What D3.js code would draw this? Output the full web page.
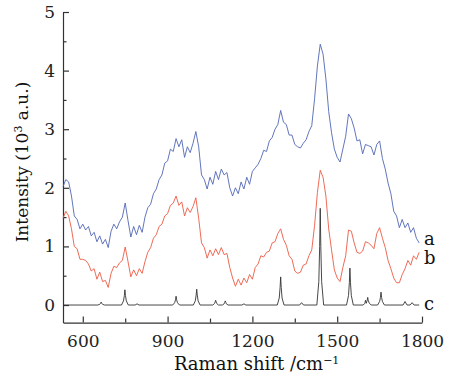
<!DOCTYPE html>
<html>
<head>
<meta charset="utf-8">
<script src="https://cdn.jsdelivr.net/npm/d3@7"></script>
<style>
  body { margin: 0; background: #fff; }
  svg { display: block; font-family: "DejaVu Serif", serif; }
</style>
</head>
<body>
<svg id="chart" width="460" height="378"></svg>
<script>
// Raman shift grid for series a and b (cm-1), every 10 from 530 to 1790
const shifts = d3.range(530, 1791, 10);

// series a (blue), 10^3 a.u.
const seriesA = [
  2.02, 2.14, 2.10, 1.86, 1.52, 1.46, 1.30, 1.38, 1.28, 1.34,
  1.18, 1.24, 1.08, 1.18, 1.04, 1.12, 0.98, 1.26, 1.38, 1.30,
  1.42, 1.50, 1.74, 1.44, 1.16, 1.34, 1.20, 1.36, 1.24, 1.50,
  1.66, 1.72, 1.90, 1.98, 2.14, 2.22, 2.42, 2.46, 2.66, 2.62,
  2.84, 2.70, 2.82, 2.52, 2.70, 2.60, 2.76, 2.96, 2.70, 2.22,
  2.14, 1.98, 2.18, 2.06, 2.28, 2.14, 2.32, 2.22, 2.26, 2.00,
  1.86, 2.00, 1.90, 2.10, 1.98, 2.18, 2.06, 2.28, 2.34, 2.40,
  2.50, 2.64, 2.62, 2.80, 2.86, 3.00, 3.08, 3.32, 3.12, 3.08,
  2.90, 2.90, 2.74, 2.70, 2.68, 2.76, 2.82, 2.96, 3.06, 3.52,
  4.08, 4.45, 4.28, 3.86, 3.30, 2.94, 2.66, 2.52, 2.44, 2.66,
  2.88, 3.26, 3.18, 3.02, 2.80, 2.82, 2.58, 2.74, 2.72, 2.70,
  2.56, 2.74, 2.80, 2.50, 2.32, 2.08, 1.90, 1.60, 1.52, 1.32,
  1.46, 1.32, 1.40, 1.24, 1.32, 1.14, 1.06
];

// series b (red)
const seriesB = [
  1.48, 1.60, 1.52, 1.30, 1.00, 0.96, 0.78, 0.78, 0.76, 0.70,
  0.58, 0.62, 0.44, 0.56, 0.40, 0.42, 0.30, 0.54, 0.66, 0.64,
  0.72, 0.76, 0.99, 0.74, 0.48, 0.60, 0.50, 0.62, 0.54, 0.74,
  0.90, 0.98, 1.14, 1.20, 1.34, 1.38, 1.52, 1.56, 1.70, 1.74,
  1.86, 1.70, 1.76, 1.52, 1.66, 1.58, 1.68, 1.83, 1.48, 1.06,
  0.98, 0.80, 0.94, 0.84, 0.96, 0.86, 0.98, 0.86, 0.88, 0.64,
  0.46, 0.32, 0.44, 0.34, 0.46, 0.38, 0.52, 0.44, 0.64, 0.70,
  0.84, 0.82, 0.90, 0.92, 1.06, 1.08, 1.22, 1.30, 1.12, 1.02,
  0.84, 0.78, 0.58, 0.54, 0.56, 0.68, 0.70, 0.84, 0.94, 1.36,
  1.92, 2.30, 2.18, 1.86, 1.30, 0.94, 0.60, 0.46, 0.40, 0.64,
  0.84, 1.28, 1.26, 1.06, 0.90, 0.88, 0.92, 1.08, 1.06, 1.02,
  0.96, 1.22, 1.32, 1.14, 0.98, 0.76, 0.62, 0.46, 0.38, 0.38,
  0.52, 0.62, 0.76, 0.68, 0.84, 0.78, 0.90
];

// series c (reference spectrum, black) as [shift, value] points
const seriesC = [
  [530, 0], [653, 0], [660, 0.012], [663, 0.03], [665, 0.05], [667, 0.03], [670, 0.012], [677, 0],
  [737, 0], [744, 0.07], [747, 0.16], [749, 0.26], [751, 0.16], [754, 0.07], [761, 0],
  [785, 0], [792, 0.02], [799, 0],
  [918, 0], [925, 0.04], [928, 0.09], [930, 0.15], [932, 0.09], [935, 0.04], [942, 0],
  [991, 0], [998, 0.07], [1001, 0.17], [1003, 0.27], [1005, 0.17], [1008, 0.07], [1015, 0],
  [1060, 0], [1066, 0.025], [1068, 0.05], [1070, 0.08], [1072, 0.05], [1074, 0.025], [1080, 0],
  [1094, 0], [1100, 0.02], [1102, 0.045], [1104, 0.07], [1106, 0.045], [1108, 0.02], [1114, 0],
  [1163, 0], [1170, 0.02], [1177, 0],
  [1288, 0], [1295, 0.12], [1298, 0.3], [1300, 0.48], [1302, 0.3], [1305, 0.12], [1312, 0],
  [1367, 0], [1374, 0.04], [1381, 0],
  [1428, 0], [1435, 0.4], [1438, 1.0], [1440, 1.65], [1442, 1.0], [1445, 0.4], [1452, 0],
  [1533, 0], [1540, 0.16], [1543, 0.38], [1545, 0.63], [1547, 0.38], [1550, 0.16], [1557, 0],
  [1592, 0], [1598, 0.03], [1600, 0.08], [1603, 0.03], [1606, 0.08], [1608, 0.13], [1610, 0.07], [1614, 0.03], [1620, 0],
  [1643, 0], [1650, 0.06], [1653, 0.13], [1655, 0.22], [1657, 0.13], [1660, 0.06], [1667, 0],
  [1733, 0], [1740, 0.06], [1747, 0],
  [1758, 0], [1765, 0.04], [1772, 0],
  [1790, 0]
];

const xTicks = [600, 900, 1200, 1500, 1800];
const xMinorTicks = [750, 1050, 1350, 1650];
const yTicks = [0, 1, 2, 3, 4, 5];
const yMinorTicks = [0.5, 1.5, 2.5, 3.5, 4.5];
const seriesLabels = ["a", "b", "c"];

const svg = d3.select("#chart");

const x = d3.scaleLinear().domain([530, 1800]).range([63, 422]);
const y = d3.scaleLinear().domain([-0.3, 5]).range([322.6, 12]);

// axes, ticks pointing inward
const xAxis = svg.append("g")
  .attr("transform", `translate(0,${y(-0.3)})`)
  .call(d3.axisBottom(x).tickValues(xTicks).tickFormat(d3.format("d"))
    .tickSizeInner(-6).tickSizeOuter(0).tickPadding(12));
xAxis.append("g").call(d3.axisBottom(x).tickValues(xMinorTicks).tickSize(-4).tickFormat(""))
  .select(".domain").remove();

const yAxis = svg.append("g")
  .attr("transform", `translate(${x(530)},0)`)
  .call(d3.axisLeft(y).tickValues(yTicks).tickFormat(d3.format("d"))
    .tickSizeInner(-6).tickSizeOuter(0).tickPadding(8));
yAxis.append("g").call(d3.axisLeft(y).tickValues(yMinorTicks).tickSize(-3.5).tickFormat(""))
  .select(".domain").remove();

svg.selectAll(".domain, .tick line").attr("stroke", "#333").attr("stroke-width", 1.2);
svg.selectAll(".tick text").attr("font-size", 17).attr("fill", "#222")
  .attr("font-family", "DejaVu Serif, serif");

// lines
const lineXY = d3.line().x((d, i) => x(shifts[i])).y(d => y(d));
svg.append("path").datum(seriesA).attr("d", lineXY)
  .attr("fill", "none").attr("stroke", "#5066b4").attr("stroke-width", 0.9);
svg.append("path").datum(seriesB).attr("d", lineXY)
  .attr("fill", "none").attr("stroke", "#ec5a44").attr("stroke-width", 0.9);
svg.append("path").datum(seriesC)
  .attr("d", d3.line().x(d => x(d[0])).y(d => y(d[1])))
  .attr("fill", "none").attr("stroke", "#333").attr("stroke-width", 0.9);

// series labels at right end
const labelY = [seriesA[seriesA.length - 1], seriesB[seriesB.length - 1], 0];
svg.selectAll(".slabel")
  .data(seriesLabels)
  .enter()
  .append("text")
  .attr("class", "slabel")
  .attr("x", 424)
  .attr("y", (d, i) => y(labelY[i]) + [2, 12, 5][i])
  .attr("font-size", 18)
  .attr("fill", "#111")
  .text(d => d);

// axis titles
svg.append("text")
  .attr("x", x(1215)).attr("y", 370)
  .attr("text-anchor", "middle")
  .attr("font-size", 18)
  .attr("fill", "#111")
  .html("Raman shift /cm<tspan dy='-6' font-size='11'>−1</tspan>");

svg.append("text")
  .attr("transform", "translate(28,162) rotate(-90)")
  .attr("text-anchor", "middle")
  .attr("font-size", 17)
  .attr("fill", "#111")
  .html("Intensity (10<tspan dy='-6' font-size='11'>3</tspan><tspan dy='6'> a.u.)</tspan>");
</script>
</body>
</html>
